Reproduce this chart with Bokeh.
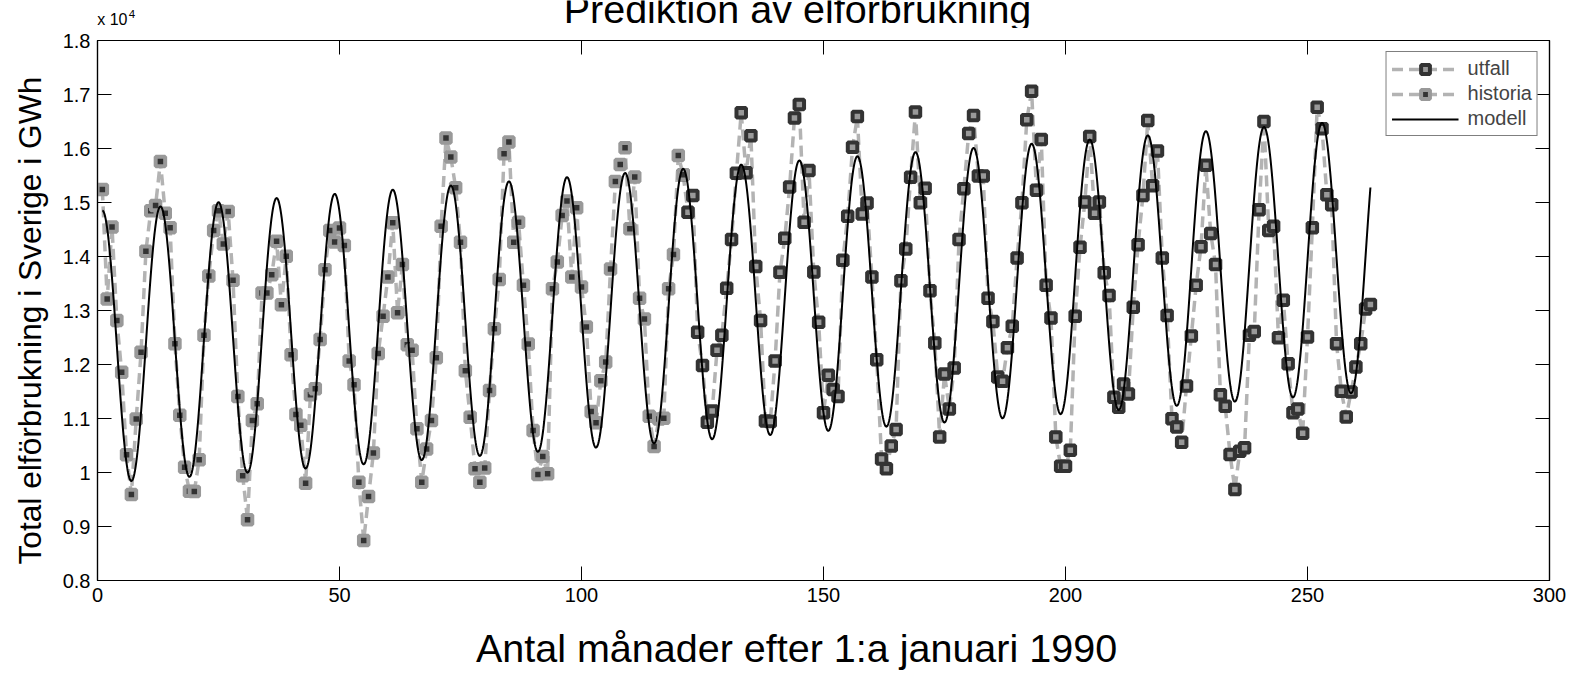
import numpy as np
from bokeh.plotting import figure
from bokeh.layouts import row, column
from bokeh.models import (Range1d, LinearAxis, FixedTicker, CustomJSTickFormatter,
                          Label, Legend, LegendItem, ColumnDataSource)
from bokeh.embed import file_html
from bokeh.resources import INLINE

# ---------------- data (GWh per month, month 1 = Jan 1990) ----------------
historia_months = list(range(1, 122))
historia_gwh = [
    15242, 13211, 14547, 12815, 11856, 10328, 9594, 10989, 12226, 14098, 14845, 14944,
    15758, 14799, 14534, 12385, 11062, 10096, 9653, 9646, 10235, 12543, 13641, 14481,
    14845, 14230, 14832, 13562, 11406, 9938, 9124, 10963, 11274, 13324, 13324, 13661,
    14283, 13106, 14005, 12180, 11075, 10877, 9799, 11439, 11551, 12464, 13754, 14481,
    14270, 14528, 14204, 12067, 11624, 9818, 8740, 9554, 10361, 12206, 12894, 13622,
    14627, 12960, 13853, 12365, 12266, 10811, 9818, 10434, 10963, 12127, 14561, 16194,
    15844, 15275, 14263, 11882, 11022, 10070, 9818, 10083, 11518, 12663, 13575, 15903,
    16122, 14263, 14633, 13469, 12378, 10778, 9964, 10295, 9977, 13403, 13899, 14759,
    15030, 13622, 14905, 13436, 12696, 11128, 10923, 11697, 12047, 13767, 15387, 15705,
    16016, 14514, 15473, 13225, 12841, 11042, 10480, 10990, 11003, 13403, 14038, 15870,
    15512,
]
utfall_months = list(range(121, 264))
utfall_gwh = [
    15512, 14819, 15130, 12596, 11981, 10930, 11141, 12266, 12543, 13410, 14316, 15540,
    16664, 15553, 16234, 13813, 12815, 10956, 10943, 12067, 13708, 14336, 15288, 16565,
    16816, 14633, 15592, 13714, 12782, 11108, 11803, 11538, 11406, 13932, 14746, 16022,
    16591, 14786, 14991, 13622, 12087, 10249, 10070, 10493, 10797, 13549, 14137, 15467,
    16677, 14997, 15262, 13364, 12398, 10658, 11823, 11174, 11935, 14316, 15255, 16280,
    16611, 15490, 15493, 13225, 12795, 11770, 11690, 12312, 12709, 13972, 14997, 16532,
    17061, 15229, 16168, 13469, 12861, 10658, 10116, 10116, 10414, 12894, 14171, 15010,
    16221, 14799, 15010, 13701, 13278, 11393, 11207, 11637, 11452, 13059, 14217, 15130,
    16518, 15308, 15956, 13972, 12907, 10996, 10844, 10559, 11604, 12530, 13469, 14180,
    15692, 14428, 13853, 11439, 11227, 10334, 9686, 10394, 10460, 12543, 12610, 14865,
    16499, 14481, 14561, 12497, 13192, 12014, 11108, 11174, 10725, 12510, 14534, 16763,
    16366, 15143, 14958, 12385, 11505, 11029, 11492, 11955, 12385, 13026, 13112,
]

# fitted seasonal model: level + trend*t + A*cos(2*pi*(t-peak)/period)
model_first_month, model_last_month = 1, 263
model_level = 12320.0
model_trend = 6.45
model_amplitude = 2523.0
model_peak_month = 1.0
model_period = 12.0

x_ticks = [0, 50, 100, 150, 200, 250, 300]
y_ticks = [8000, 9000, 10000, 11000, 12000, 13000, 14000, 15000, 16000, 17000, 18000]

title_text = "Prediktion av elförbrukning"
xlabel_text = "Antal månader efter 1:a januari 1990"
ylabel_text = "Total elförbrukning i Sverige i GWh"

# ---------------- styling ----------------
FONT = "Liberation Sans"
DARK = "#333333"
MID = "#999999"
DASH = "#b3b3b3"
MID_OFFSET = 0.3465   # distance (in em) from alphabetic baseline to text middle

TOTAL_W, TOTAL_H = 1580, 673
TOP_H, BOTTOM_H, LEFT_W = 28, 58, 50
MAIN_H = TOTAL_H - TOP_H - BOTTOM_H          # 587
MAIN_W = TOTAL_W - LEFT_W                     # 1530


def text_fig(w, h):
    f = figure(width=w, height=h, output_backend="svg", toolbar_location=None,
               x_range=Range1d(0, w), y_range=Range1d(0, h),
               x_axis_type=None, y_axis_type=None,
               min_border_left=0, min_border_right=0, min_border_top=0, min_border_bottom=0,
               background_fill_color="white", border_fill_color="white")
    f.outline_line_color = None
    f.xgrid.visible = False
    f.ygrid.visible = False
    return f


# ---------------- main plot ----------------
p = figure(width=MAIN_W, height=MAIN_H, output_backend="svg", toolbar_location=None,
           x_range=Range1d(0, 300), y_range=Range1d(8000, 18000),
           min_border_left=47, min_border_right=31, min_border_top=12, min_border_bottom=35,
           background_fill_color="white", border_fill_color="white")
p.xgrid.visible = False
p.ygrid.visible = False
p.outline_line_color = "black"
p.outline_line_width = 1.2


def style_axis(ax, show_labels):
    ax.major_tick_in = 14
    ax.major_tick_out = 0
    ax.minor_tick_line_color = None
    ax.major_tick_line_color = "black"
    ax.major_tick_line_width = 1
    ax.axis_line_color = "black"
    ax.axis_line_width = 1.2
    ax.major_label_text_font = FONT
    ax.major_label_text_color = "black"
    if show_labels:
        ax.major_label_text_font_size = "20px"
        ax.major_label_standoff = 7
    else:
        ax.major_label_text_font_size = "0px"
        ax.major_label_standoff = 0
        ax.formatter = CustomJSTickFormatter(code="return '';")


p.xaxis.ticker = FixedTicker(ticks=x_ticks)
p.yaxis.ticker = FixedTicker(ticks=y_ticks)
p.yaxis.formatter = CustomJSTickFormatter(code="return (tick/10000).toString();")
style_axis(p.xaxis[0], True)
style_axis(p.yaxis[0], True)

ax_top = LinearAxis(ticker=FixedTicker(ticks=x_ticks))
style_axis(ax_top, False)
p.add_layout(ax_top, "above")
ax_right = LinearAxis(ticker=FixedTicker(ticks=y_ticks))
style_axis(ax_right, False)
p.add_layout(ax_right, "right")

src_u = ColumnDataSource(dict(m=utfall_months, v=utfall_gwh))
src_h = ColumnDataSource(dict(m=historia_months, v=historia_gwh))

r_ul = p.line("m", "v", source=src_u, line_color=DASH, line_width=3.5, line_dash="11 6")
r_um = p.scatter("m", "v", source=src_u, marker="square", size=9.5,
                 line_color=DARK, line_width=4, fill_color=MID)
r_hl = p.line("m", "v", source=src_h, line_color=DASH, line_width=3.5, line_dash="11 6")
r_hm = p.scatter("m", "v", source=src_h, marker="square", size=9.5,
                 line_color=MID, line_width=4, fill_color=DARK)

t = np.linspace(model_first_month, model_last_month, 3000)
model_gwh = model_level + model_trend * t + model_amplitude * np.cos(
    2 * np.pi * (t - model_peak_month) / model_period)
r_mod = p.line(t, model_gwh, line_color="black", line_width=2)

legend = Legend(items=[
    LegendItem(label="utfall", renderers=[r_ul, r_um]),
    LegendItem(label="historia", renderers=[r_hl, r_hm]),
    LegendItem(label="modell", renderers=[r_mod]),
], location="top_right")
legend.border_line_color = "black"
legend.border_line_width = 1
legend.background_fill_color = "white"
legend.background_fill_alpha = 1
legend.label_text_font = FONT
legend.label_text_font_size = "20px"
legend.glyph_width = 67
legend.glyph_height = 22
legend.label_standoff = 9
legend.padding = 5
legend.spacing = 2
legend.margin = 11
p.add_layout(legend)


# ---------------- text strips around the plot ----------------
def add_text(fig, x, y, text, size_px, align="center", angle=0.0):
    fig.add_layout(Label(x=x, y=y, text=text, text_align=align, angle=angle,
                         text_baseline="middle", text_font=FONT,
                         text_font_size=f"{size_px}px", text_color="black"))


top = text_fig(TOTAL_W, TOP_H)
# baselines (page px): title 22.0, "x 10" 24.5, superscript "4" 17.8
add_text(top, 797, TOP_H - (22.0 - MID_OFFSET * 39.5), title_text, 39.5)
add_text(top, 96.7, TOP_H - (24.5 - MID_OFFSET * 16), "x 10", 16, align="left")
add_text(top, 128.3, TOP_H - (17.8 - MID_OFFSET * 11.5), "4", 11.5, align="left")

left = text_fig(LEFT_W, MAIN_H)
# baseline at page x = 40, centred at page y = 332.5
add_text(left, 40 - MID_OFFSET * 31.7, (TOP_H + MAIN_H) - 332.5, ylabel_text, 31.7,
         angle=np.pi / 2)

bottom = text_fig(TOTAL_W, BOTTOM_H)
# baseline at page y = 661.5
add_text(bottom, 796, TOTAL_H - (661.5 - MID_OFFSET * 39.5), xlabel_text, 39.5)

layout = column(top, row(left, p, spacing=0), bottom, spacing=0)

open("out.html", "w").write(file_html(layout, INLINE))
